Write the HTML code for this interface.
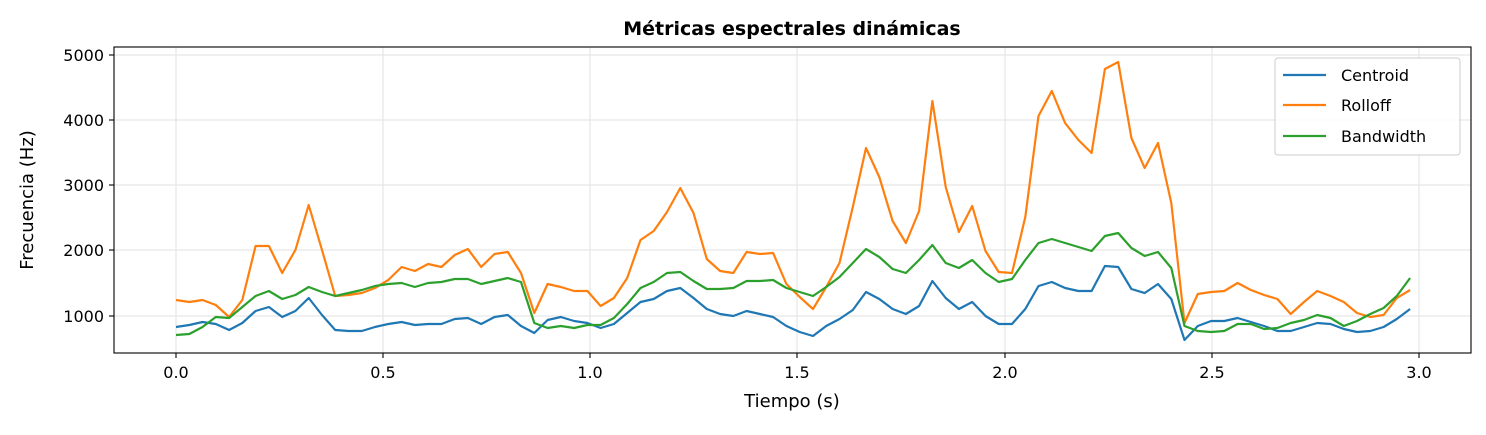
<!DOCTYPE html><html><head><meta charset="utf-8"><style>body{margin:0;background:#fff}svg{display:block;font-family:"DejaVu Sans","Liberation Sans",sans-serif}</style></head><body>
<svg width="1486" height="435" xmlns="http://www.w3.org/2000/svg">
<g stroke="#e6e6e6" stroke-width="1.2">
<line x1="176" y1="47" x2="176" y2="353"/><line x1="383" y1="47" x2="383" y2="353"/><line x1="590" y1="47" x2="590" y2="353"/><line x1="797" y1="47" x2="797" y2="353"/><line x1="1005" y1="47" x2="1005" y2="353"/><line x1="1212" y1="47" x2="1212" y2="353"/><line x1="1419" y1="47" x2="1419" y2="353"/>
<line x1="114" y1="316" x2="1471" y2="316"/><line x1="114" y1="250" x2="1471" y2="250"/><line x1="114" y1="185" x2="1471" y2="185"/><line x1="114" y1="120" x2="1471" y2="120"/><line x1="114" y1="55" x2="1471" y2="55"/>
</g>
<g id="lines" fill="none" stroke-width="2.2" stroke-linejoin="round"></g>
<rect x="114" y="47" width="1357" height="306" fill="none" stroke="#000" stroke-width="1.1"/>
<g stroke="#000" stroke-width="1.1">
<line x1="176" y1="353" x2="176" y2="358"/><line x1="383" y1="353" x2="383" y2="358"/><line x1="590" y1="353" x2="590" y2="358"/><line x1="797" y1="353" x2="797" y2="358"/><line x1="1005" y1="353" x2="1005" y2="358"/><line x1="1212" y1="353" x2="1212" y2="358"/><line x1="1419" y1="353" x2="1419" y2="358"/>
<line x1="109" y1="316" x2="114" y2="316"/><line x1="109" y1="250" x2="114" y2="250"/><line x1="109" y1="185" x2="114" y2="185"/><line x1="109" y1="120" x2="114" y2="120"/><line x1="109" y1="55" x2="114" y2="55"/>
</g>
<g font-size="16" text-anchor="middle" fill="#000">
<text x="176" y="378">0.0</text><text x="383" y="378">0.5</text><text x="590" y="378">1.0</text><text x="797" y="378">1.5</text><text x="1005" y="378">2.0</text><text x="1212" y="378">2.5</text><text x="1419" y="378">3.0</text>
</g>
<g font-size="16" text-anchor="end" fill="#000">
<text x="104" y="322">1000</text><text x="104" y="256">2000</text><text x="104" y="191">3000</text><text x="104" y="126">4000</text><text x="104" y="61">5000</text>
</g>
<text x="792" y="407" font-size="18" text-anchor="middle">Tiempo (s)</text>
<text transform="translate(33,200) rotate(-90)" font-size="18" text-anchor="middle">Frecuencia (Hz)</text>
<text x="792" y="35" font-size="19" font-weight="bold" text-anchor="middle">Métricas espectrales dinámicas</text>
<rect x="1275" y="58" width="185" height="97" rx="3" fill="#fff" fill-opacity="0.85" stroke="#ccc"/>
<line x1="1283" y1="75" x2="1326" y2="75" stroke="#1f77b4" stroke-width="2.2"/>
<line x1="1283" y1="105" x2="1326" y2="105" stroke="#ff7f0e" stroke-width="2.2"/>
<line x1="1283" y1="136" x2="1326" y2="136" stroke="#2ca02c" stroke-width="2.2"/>
<g font-size="16"><text x="1341" y="81">Centroid</text><text x="1341" y="111">Rolloff</text><text x="1341" y="142">Bandwidth</text></g>
</svg>
<script>
var O=[300,302,300,305,317,300,246,246,273,250,205,250,296,295,293,288,280,267,271,264,267,255,249,267,254,252,273,313,284,287,291,291,306,298,278,240,231,212,188,213,259,271,273,252,254,253,284,297,309,287,263,207,148,177,221,243,211,101,187,232,206,251,272,273,217,116,91,123,140,153,69,62,138,168,143,203,323,294,292,291,283,290,295,299,314,302,291,296,302,313,317,315,298,290];
var G=[335,334,327,317,318,307,296,291,299,295,287,292,296,293,290,286,284,283,287,283,282,279,279,284,281,278,282,323,328,326,328,325,325,318,304,288,282,273,272,281,289,289,288,281,281,280,288,292,296,287,277,263,249,257,269,273,260,245,263,268,260,273,282,279,260,243,239,243,247,251,236,233,248,256,252,268,326,331,332,331,324,324,329,328,323,320,315,318,326,321,314,308,296,278];
var B=[327,325,322,324,330,323,311,307,317,311,298,315,330,331,331,327,324,322,325,324,324,319,318,324,317,315,326,333,320,317,321,323,328,324,313,302,299,291,288,298,309,314,316,311,314,317,326,332,336,326,319,310,292,299,309,314,306,281,298,309,302,316,324,324,309,286,282,288,291,291,266,267,289,293,284,299,340,326,321,321,318,322,326,331,331,327,323,324,329,332,331,327,319,309];
function pts(a){return a.map(function(y,i){return (176+i*13.27).toFixed(1)+","+y}).join(" ")}
var g=document.getElementById("lines"),ns="http://www.w3.org/2000/svg";
[[B,"#1f77b4"],[O,"#ff7f0e"],[G,"#2ca02c"]].forEach(function(s){var p=document.createElementNS(ns,"polyline");p.setAttribute("points",pts(s[0]));p.setAttribute("stroke",s[1]);g.appendChild(p)});
</script>
</body></html>
